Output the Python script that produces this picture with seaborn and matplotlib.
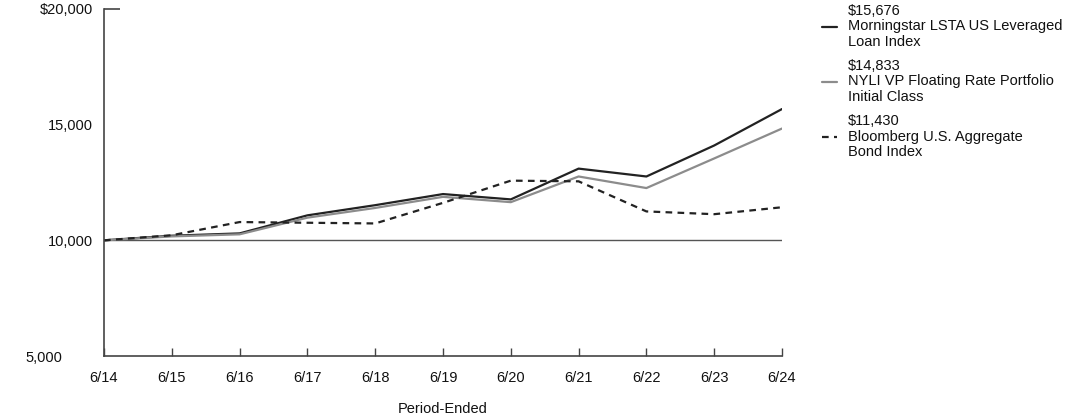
import matplotlib
matplotlib.use("Agg")
import matplotlib.pyplot as plt
import matplotlib.transforms as mtransforms
from matplotlib.lines import Line2D
import seaborn as sns
import pandas as pd

periods = ["6/14", "6/15", "6/16", "6/17", "6/18", "6/19", "6/20", "6/21", "6/22", "6/23", "6/24"]
morningstar = [10000, 10200, 10300, 11080, 11520, 12000, 11770, 13100, 12760, 14100, 15676]
nyli = [10000, 10170, 10260, 10980, 11400, 11880, 11650, 12760, 12260, 13540, 14833]
bloomberg = [10000, 10220, 10790, 10760, 10730, 11620, 12580, 12550, 11250, 11130, 11430]

names = [
    "$15,676\nMorningstar LSTA US Leveraged\nLoan Index",
    "$14,833\nNYLI VP Floating Rate Portfolio\nInitial Class",
    "$11,430\nBloomberg U.S. Aggregate\nBond Index",
]
series = [morningstar, nyli, bloomberg]

rows = []
for name, vals in zip(names, series):
    for i, v in enumerate(vals):
        rows.append({"pos": i, "value": v, "series": name})
df = pd.DataFrame(rows)

sns.set_theme(style="white")
plt.rcParams["font.family"] = ["Liberation Sans", "DejaVu Sans"]

fig = plt.figure(figsize=(10.92, 4.17), dpi=100)
ax = fig.add_axes([104 / 1092, 1 - 356 / 417, (782 - 104) / 1092, (356 - 9) / 417])

palette = {names[0]: "#222222", names[1]: "#8c8c8c", names[2]: "#222222"}
dashes = {names[0]: "", names[1]: "", names[2]: (3, 2.4)}
sns.lineplot(data=df, x="pos", y="value", hue="series", style="series",
             palette=palette, dashes=dashes, linewidth=1.6, ax=ax, legend=False)

ax.axhline(10000, color="#555555", linewidth=1.0, zorder=0)

ax.set_xlim(0, len(periods) - 1)
ax.set_ylim(5000, 20000)
ax.set_xticks(range(len(periods)))
ax.set_xticklabels(periods)
ax.set_yticks([5000, 10000, 15000, 20000])
ax.set_yticklabels(["5,000", "10,000", "15,000", "$20,000"])
ax.yaxis.remove_overlapping_locs = False
ax.set_yticks([20000], minor=True)

for s in ["top", "right"]:
    ax.spines[s].set_visible(False)
for s in ["left", "bottom"]:
    ax.spines[s].set_color("#444444")
    ax.spines[s].set_linewidth(1.2)

ax.tick_params(axis="x", which="major", bottom=True, direction="in", length=6, width=1,
               color="#444444", pad=11, labelsize=10.5, labelcolor="#111111")
ax.tick_params(axis="y", which="major", left=True, length=0, pad=8, labelsize=10.5,
               labelcolor="#111111")
ax.tick_params(axis="y", which="minor", left=True, direction="in", length=11.5, width=1.2,
               color="#444444")

ax.set_xlabel("Period-Ended", fontsize=10.5, labelpad=12, color="#111111")
ax.set_ylabel("")

# bottom y label sits further left (as in reference)
lbl = ax.get_yticklabels()[0]
lbl.set_transform(lbl.get_transform() + mtransforms.ScaledTranslation(-31 / 100, 0, fig.dpi_scale_trans))

handles = [
    Line2D([], [], color="#222222", linewidth=1.6),
    Line2D([], [], color="#8c8c8c", linewidth=1.6),
    Line2D([], [], color="#222222", linewidth=1.6, linestyle=(0, (3, 2.4))),
]
leg = fig.legend(handles, names, loc="upper left", bbox_to_anchor=(822 / 1092, 1 - 4 / 417),
                 frameon=False, fontsize=10.5, handlelength=1.05, handletextpad=0.75,
                 labelspacing=0.72, borderaxespad=0.0, borderpad=0.0)
for t in leg.get_texts():
    t.set_linespacing(1.12)
    t.set_color("#111111")

fig.savefig("out.png", dpi=100)
